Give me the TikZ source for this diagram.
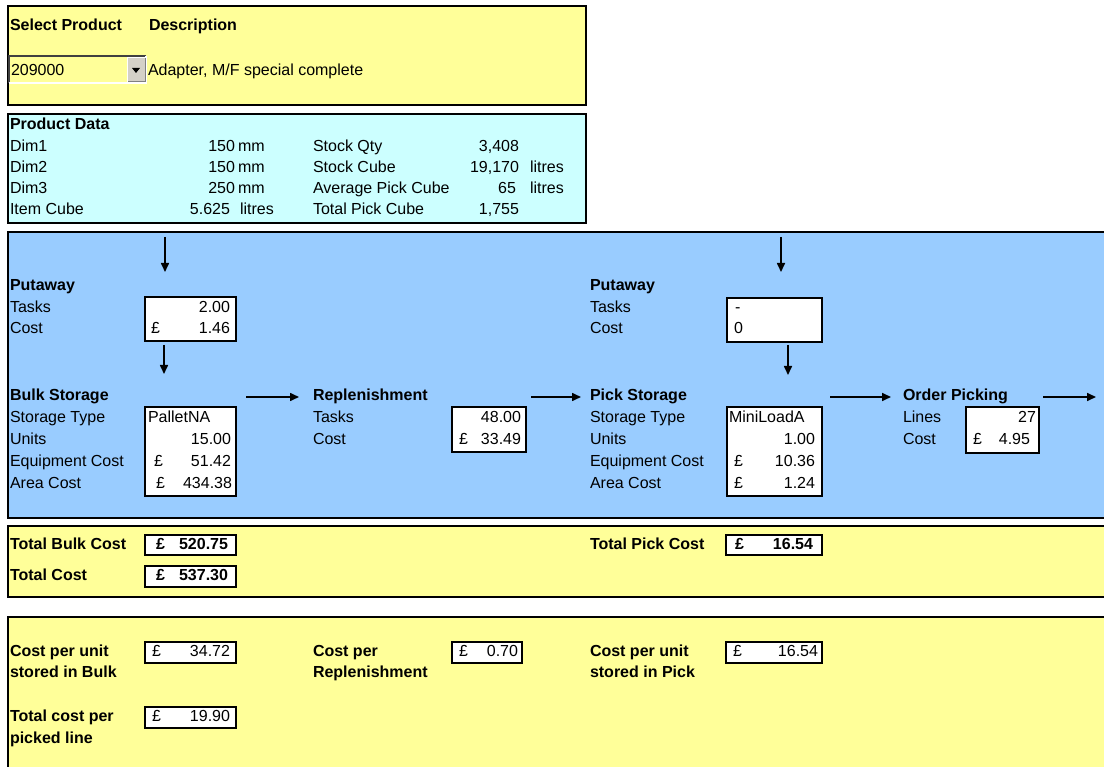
\documentclass[tikz,border=0pt]{standalone}
\usepackage{fontspec}
\setmainfont{Liberation Sans}
\usetikzlibrary{arrows.meta}
\definecolor{ylw}{HTML}{FFFF99}
\definecolor{cyn}{HTML}{CCFFFF}
\definecolor{blu}{HTML}{99CCFF}
\definecolor{btn}{HTML}{D4D0C8}
\definecolor{sunk}{HTML}{404040}
\begin{document}
\begin{tikzpicture}[x=1pt,y=-1pt,
  every node/.style={inner sep=0pt, outer sep=0pt, font=\fontsize{16}{19}\selectfont},
  lbl/.style={anchor=base west},
  hdr/.style={anchor=base west, font=\fontsize{16}{19}\selectfont\bfseries},
  val/.style={anchor=base east},
  bval/.style={anchor=base east, font=\fontsize{16}{19}\selectfont\bfseries},
  bcur/.style={anchor=base west, font=\fontsize{16}{19}\selectfont\bfseries},
  panel/.style={draw=black, line width=2pt, anchor=north west},
  cell/.style={draw=black, line width=1.6pt, fill=white, anchor=north west},
  arr/.style={line width=1.6pt, -{Triangle[length=9pt,width=8pt]}},
]
\useasboundingbox (0,0) rectangle (1104,767);
% panels
\node[panel, fill=ylw, minimum width=578pt, minimum height=99pt] (p1) at (8,6) {};
\node[panel, fill=cyn, minimum width=578pt, minimum height=109pt] (p2) at (8,114) {};
\node[panel, fill=blu, minimum width=1110pt, minimum height=286pt] (p3) at (8,232) {};
\node[panel, fill=ylw, minimum width=1110pt, minimum height=71pt] (p4) at (8,526) {};
\node[panel, fill=ylw, minimum width=1110pt, minimum height=170pt] (p5) at (8,617) {};

% select product
\node[hdr] (selprod) at (10,31) {Select Product};
\node[hdr] (desc) at (149,31) {Description};
\node[anchor=north west, minimum width=137pt, minimum height=27pt] (combo) at (9,56) {};
\draw[sunk, line width=1.5pt] (combo.south west) -- (combo.north west) -- (combo.north east);
\draw[white, line width=1.5pt] (combo.south west) -- (combo.south east) -- (combo.north east);
\node[anchor=north west, fill=btn, minimum width=18pt, minimum height=24pt] (btn) at (127,58) {};
\draw[gray, line width=1pt] (btn.south west) -- (btn.south east) -- (btn.north east);
\draw[white, line width=1pt] (btn.south west) -- (btn.north west) -- (btn.north east);
\fill[black] ([shift={(-4,-2)}]btn.center) -- ([shift={(4,-2)}]btn.center) -- ([shift={(0,3)}]btn.center) -- cycle;
\node[lbl] (prodid) at (11,75.5) {209000};
\node[lbl] (descv) at (148,75.5) {Adapter, M/F special complete};

% product data
\node[hdr] (pd) at (10,130) {Product Data};
\node[lbl] (d1) at (10,151.5) {Dim1};
\node[lbl] (d2) at (10,172.5) {Dim2};
\node[lbl] (d3) at (10,193.5) {Dim3};
\node[lbl] (ic) at (10,215) {Item Cube};
\node[val] (d1v) at (235,151.5) {150};
\node[val] (d2v) at (235,172.5) {150};
\node[val] (d3v) at (235,193.5) {250};
\node[val] (icv) at (230,215) {5.625};
\node[lbl] (d1u) at (238,151.5) {mm};
\node[lbl] (d2u) at (238,172.5) {mm};
\node[lbl] (d3u) at (238,193.5) {mm};
\node[lbl] (icu) at (240,215) {litres};
\node[lbl] (sq) at (313,151.5) {Stock Qty};
\node[lbl] (sc) at (313,172.5) {Stock Cube};
\node[lbl] (apc) at (313,193.5) {Average Pick Cube};
\node[lbl] (tpc) at (313,215) {Total Pick Cube};
\node[val] (sqv) at (519,151.5) {3,408};
\node[val] (scv) at (519,172.5) {19,170};
\node[val] (apcv) at (516,193.5) {65};
\node[val] (tpcv) at (519,215) {1,755};
\node[lbl] (scu) at (530,172.5) {litres};
\node[lbl] (apcu) at (530,193.5) {litres};

% left putaway
\node[hdr] (pa1) at (10,291) {Putaway};
\node[lbl] (pa1t) at (10,313) {Tasks};
\node[lbl] (pa1c) at (10,334) {Cost};
\node[cell, minimum width=91pt, minimum height=44pt] (pa1box) at (145,297) {};
\node[val] at (230,313) {2.00};
\node[lbl] at (151,334) {£};
\node[val] at (230,334) {1.46};

% bulk storage
\node[hdr] (bulk) at (10,401) {Bulk Storage};
\node[lbl] at (10,423) {Storage Type};
\node[lbl] at (10,444.5) {Units};
\node[lbl] at (10,466) {Equipment Cost};
\node[lbl] at (10,488) {Area Cost};
\node[cell, minimum width=91pt, minimum height=89pt] (bulkbox) at (145,407) {};
\node[lbl] at (148,423) {PalletNA};
\node[val] at (231,444.5) {15.00};
\node[lbl] at (154,466) {£};
\node[val] at (231,466) {51.42};
\node[lbl] at (156,488) {£};
\node[val] at (232,488) {434.38};

% replenishment
\node[hdr] (repl) at (313,401) {Replenishment};
\node[lbl] at (313,423) {Tasks};
\node[lbl] at (313,444.5) {Cost};
\node[cell, minimum width=74pt, minimum height=45pt] (replbox) at (452,407) {};
\node[val] at (521,423) {48.00};
\node[lbl] at (459,444.5) {£};
\node[val] at (521,444.5) {33.49};

% right putaway
\node[hdr] (pa2) at (590,291) {Putaway};
\node[lbl] at (590,313) {Tasks};
\node[lbl] at (590,334) {Cost};
\node[cell, minimum width=95pt, minimum height=44pt] (pa2box) at (727,298) {};
\node[lbl] at (735,313) {-};
\node[lbl] at (734,334) {0};

% pick storage
\node[hdr] (pick) at (590,401) {Pick Storage};
\node[lbl] at (590,423) {Storage Type};
\node[lbl] at (590,444.5) {Units};
\node[lbl] at (590,466) {Equipment Cost};
\node[lbl] at (590,488) {Area Cost};
\node[cell, minimum width=95pt, minimum height=89pt] (pickbox) at (727,407) {};
\node[lbl] at (729,423) {MiniLoadA};
\node[val] at (815,444.5) {1.00};
\node[lbl] at (734,466) {£};
\node[val] at (815,466) {10.36};
\node[lbl] at (734,488) {£};
\node[val] at (815,488) {1.24};

% order picking
\node[hdr] (order) at (903,401) {Order Picking};
\node[lbl] at (903,423) {Lines};
\node[lbl] at (903,444.5) {Cost};
\node[cell, minimum width=73pt, minimum height=46pt] (orderbox) at (966,407) {};
\node[val] at (1036,423) {27};
\node[lbl] at (973,444.5) {£};
\node[val] at (1030,444.5) {4.95};

% arrows
\coordinate (a1s) at (165,237); \coordinate (a1e) at (165,272);
\coordinate (a2s) at (164,345); \coordinate (a2e) at (164,374);
\coordinate (a3s) at (246,397); \coordinate (a3e) at (299,397);
\coordinate (a4s) at (531,397); \coordinate (a4e) at (581,397);
\coordinate (a5s) at (781,237); \coordinate (a5e) at (781,272);
\coordinate (a6s) at (788,345); \coordinate (a6e) at (788,375);
\coordinate (a7s) at (830,397); \coordinate (a7e) at (891,397);
\coordinate (a8s) at (1043,397); \coordinate (a8e) at (1096,397);
\foreach \a in {1,...,8} { \draw[arr] (a\a s) -- (a\a e); }

% totals
\node[hdr] (tbc) at (10,549) {Total Bulk Cost};
\node[cell, minimum width=91pt, minimum height=20pt] (tbcbox) at (145,535) {};
\node[bcur] at (156,549) {£};
\node[bval] at (228,549) {520.75};
\node[hdr] (tc) at (10,580) {Total Cost};
\node[cell, minimum width=91pt, minimum height=21pt] (tcbox) at (145,566) {};
\node[bcur] at (156,580) {£};
\node[bval] at (228,580) {537.30};
\node[hdr] (tpk) at (590,549) {Total Pick Cost};
\node[cell, minimum width=96pt, minimum height=20pt] (tpkbox) at (726,535) {};
\node[bcur] at (735,549) {£};
\node[bval] at (813,549) {16.54};

% per unit
\node[hdr] at (10,656) {Cost per unit};
\node[hdr] at (10,677) {stored in Bulk};
\node[cell, minimum width=91pt, minimum height=21pt] (cubbox) at (145,642) {};
\node[lbl] at (152,656) {£};
\node[val] at (230,656) {34.72};
\node[hdr] at (313,656) {Cost per};
\node[hdr] at (313,677) {Replenishment};
\node[cell, minimum width=70pt, minimum height=21pt] (crbox) at (452,642) {};
\node[lbl] at (459,656) {£};
\node[val] at (518,656) {0.70};
\node[hdr] at (590,656) {Cost per unit};
\node[hdr] at (590,677) {stored in Pick};
\node[cell, minimum width=96pt, minimum height=21pt] (cupbox) at (726,642) {};
\node[lbl] at (733,656) {£};
\node[val] at (818,656) {16.54};
\node[hdr] at (10,721) {Total cost per};
\node[hdr] at (10,743) {picked line};
\node[cell, minimum width=91pt, minimum height=21pt] (tcpbox) at (145,707) {};
\node[lbl] at (152,721) {£};
\node[val] at (230,721) {19.90};
\end{tikzpicture}
\end{document}
